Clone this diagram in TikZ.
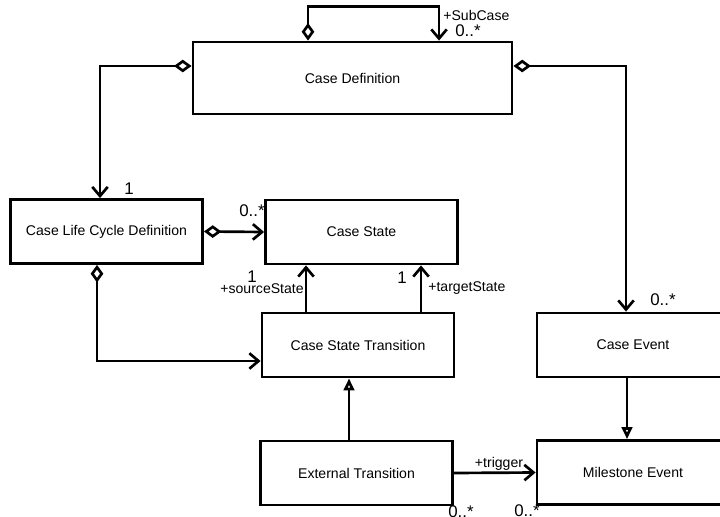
\documentclass[tikz,border=0pt]{standalone}
\usepackage{fontspec}
\setmainfont{Liberation Sans}
\usetikzlibrary{arrows.meta,calc}

\begin{document}
\begin{tikzpicture}[x=0.025cm, y=-0.025cm, line width=1.9pt,
  every node/.style={font=\fontsize{10}{12}\selectfont},
  box/.style={rectangle, draw, line width=2pt, minimum width=4.8cm, minimum height=1.6cm},
  mult/.style={font=\fontsize{12}{14}\selectfont, inner sep=0pt},
  role/.style={inner sep=0pt},
  agg/.style={{Diamond[open,length=12.5pt,width=9pt]}-{Straight Barb[length=6.5pt,width=11pt]}},
  assoc/.style={-{Straight Barb[length=6.5pt,width=11pt]}},
  inherit/.style={-{Triangle[open,length=8.5pt,width=7.5pt]}}]

\useasboundingbox (0,0) rectangle (720,517);

% A case model in UML.

\node[box, minimum width=7.975cm, minimum height=1.8cm] (def) at (352.5,78) {Case Definition};
\node[box] (life) at (106.5,231.5) {Case Life Cycle Definition};
\node[box] (state) at (361.5,232) {Case State};
\node[box] (trans) at (358,345) {Case State Transition};
\node[box] (ext) at (356.5,473) {External Transition};
\node[box] (event) at (633,345) {Case Event};
\node[box] (mile) at (633,472.5) {Milestone Event};

\draw[agg] ($(def.north)+(-44.5,0)$) -- ++(0,-34) -| ($(def.north)+(86.5,0)$);
\draw[agg] ($(def.west)+(0,-12)$) -| ($(life.north)+(-6.5,0)$);
\draw[agg] ($(def.east)+(0,-12)$) -| ($(event.north)+(-7,0)$);

\draw[agg] (life.east) -- (state.west);
\draw[agg] ($(life.south)+(-9.5,0)$) |- ($(trans.west)+(0,16)$);

\draw[assoc] ($(trans.north)+(-52,0)$) coordinate (src) -- (src |- state.south);
\draw[assoc] ($(trans.north)+(63,0)$) coordinate (tgt) -- (tgt |- state.south);

\draw[inherit] ($(ext.north)+(-7.5,0)$) coordinate (gen) -- (gen |- trans.south);
\draw[inherit] ($(event.south)+(-6,0)$) coordinate (spec) -- (spec |- mile.north);

\draw[assoc] (ext.east) -- (mile.west);

% role names and multiplicities
\node[role, anchor=west] (subcase) at (442,15) {+SubCase};
\node[mult] (msub) at (468,31) {0..*};
\node[mult] (mlife) at (129,189) {1};
\node[mult] (mstate) at (252,211) {0..*};
\node[mult] (msrc) at (252,277) {1};
\node[role, anchor=east] (source) at (305,289) {+sourceState};
\node[mult] (mtgt) at (402,278) {1};
\node[role, anchor=west] (target) at (427,288) {+targetState};
\node[mult] (mevent) at (663,300) {0..*};
\node[role] (trigger) at (499,464) {+trigger};
\node[mult] (mext) at (461,512) {0..*};
\node[mult] (mmile) at (527,511) {0..*};

\end{tikzpicture}
\end{document}
